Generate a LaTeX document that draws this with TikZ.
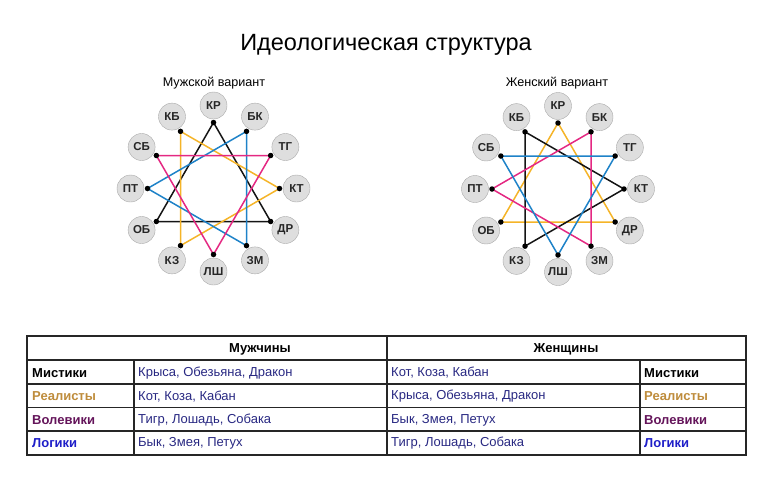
\documentclass[tikz,border=0pt]{standalone}
\usepackage{fontspec}
\setmainfont{Liberation Sans}
\usetikzlibrary{backgrounds}
\definecolor{starblack}{RGB}{20, 20, 20}
\definecolor{starorange}{RGB}{245, 180, 40}
\definecolor{starpink}{RGB}{228, 40, 130}
\definecolor{starblue}{RGB}{30, 130, 200}
\definecolor{ballfill}{RGB}{222, 222, 222}
\definecolor{balldraw}{RGB}{170, 170, 170}
\definecolor{animaltext}{RGB}{40, 40, 130}
\definecolor{realtext}{RGB}{190, 140, 60}
\definecolor{voltext}{RGB}{100, 20, 90}
\definecolor{logtext}{RGB}{30, 30, 200}
\tikzset{
    sign/.style={circle, draw=balldraw, fill=ballfill, minimum size=27pt, inner sep=0pt, font=\fontsize{11.5}{12}\selectfont\bfseries, text=black!85},
    vertex/.style={circle, fill=black, minimum size=5.5pt, inner sep=0pt},
    starline/.style={line width=1.5pt},
    cell/.style={anchor=west, inner sep=0pt, font=\fontsize{13}{14}\selectfont, text=animaltext},
    rowlabel/.style={anchor=west, inner sep=0pt, font=\fontsize{13}{14}\selectfont\bfseries},
    headlabel/.style={inner sep=0pt, font=\fontsize{13}{14}\selectfont\bfseries},
    grid/.style={line width=1.5pt, draw=black!85}
}

\begin{document}
\begin{tikzpicture}[x=1pt, y=-1pt]

    \useasboundingbox (0,0) rectangle (770,482);

    \node (title) at (386,45) {\fontsize{23.5}{24}\selectfont Идеологическая структура};
    \node (msub) at (214,83) {\fontsize{12.6}{13}\selectfont Мужской вариант};
    \node (wsub) at (557,83) {\fontsize{12.6}{13}\selectfont Женский вариант};

    % male star
    \begin{scope}[shift={(213.5,188.5)}]
        \foreach \sgn [count=\i from 0] in {КР,БК,ТГ,КТ,ДР,ЗМ,ЛШ,КЗ,ОБ,ПТ,СБ,КБ} {
            \node (m\i) [sign] at ({30*\i-90}:83) {\sgn};
            \node (md\i) [vertex] at ({30*\i-90}:66) {};
        }
    \end{scope}

    % female star
    \begin{scope}[shift={(558,189)}]
        \foreach \sgn [count=\i from 0] in {КР,БК,ТГ,КТ,ДР,ЗМ,ЛШ,КЗ,ОБ,ПТ,СБ,КБ} {
            \node (f\i) [sign] at ({30*\i-90}:83) {\sgn};
            \node (fd\i) [vertex] at ({30*\i-90}:66) {};
        }
    \end{scope}

    \begin{scope}[on background layer]
        \draw [starline, draw=starblack]  (md0.center) -- (md4.center) -- (md8.center) -- cycle;
        \draw [starline, draw=starorange] (md11.center) -- (md3.center) -- (md7.center) -- cycle;
        \draw [starline, draw=starblue]   (md1.center) -- (md9.center) -- (md5.center) -- cycle;
        \draw [starline, draw=starpink]   (md10.center) -- (md2.center) -- (md6.center) -- cycle;

        \draw [starline, draw=starorange] (fd0.center) -- (fd4.center) -- (fd8.center) -- cycle;
        \draw [starline, draw=starblack]  (fd11.center) -- (fd3.center) -- (fd7.center) -- cycle;
        \draw [starline, draw=starpink]   (fd1.center) -- (fd9.center) -- (fd5.center) -- cycle;
        \draw [starline, draw=starblue]   (fd10.center) -- (fd2.center) -- (fd6.center) -- cycle;
    \end{scope}

    % table
    \draw [grid] (27,336) rectangle (746,455);
    \draw [grid] (27,360) -- (746,360);
    \draw [grid] (27,384) -- (746,384);
    \draw [grid] (27,407.5) -- (746,407.5);
    \draw [grid] (27,431) -- (746,431);
    \draw [grid] (387,336) -- (387,455);
    \draw [grid] (134,360) -- (134,455);
    \draw [grid] (640,360) -- (640,455);

    \node (mhead) [headlabel] at (260,349) {Мужчины};
    \node (whead) [headlabel] at (566,349) {Женщины};

    \node (ml1) [rowlabel] at (32,373) {Мистики};
    \node (ml2) [rowlabel, text=realtext] at (32,396.5) {Реалисты};
    \node (ml3) [rowlabel, text=voltext] at (32,420) {Волевики};
    \node (ml4) [rowlabel, text=logtext] at (32,443.5) {Логики};

    \node (ma1) [cell] at (138,373) {Крыса, Обезьяна, Дракон};
    \node (ma2) [cell] at (138,396.5) {Кот, Коза, Кабан};
    \node (ma3) [cell] at (138,420) {Тигр, Лошадь, Собака};
    \node (ma4) [cell] at (138,443.5) {Бык, Змея, Петух};

    \node (wa1) [cell] at (391,373) {Кот, Коза, Кабан};
    \node (wa2) [cell] at (391,396.5) {Крыса, Обезьяна, Дракон};
    \node (wa3) [cell] at (391,420) {Бык, Змея, Петух};
    \node (wa4) [cell] at (391,443.5) {Тигр, Лошадь, Собака};

    \node (wl1) [rowlabel] at (644,373) {Мистики};
    \node (wl2) [rowlabel, text=realtext] at (644,396.5) {Реалисты};
    \node (wl3) [rowlabel, text=voltext] at (644,420) {Волевики};
    \node (wl4) [rowlabel, text=logtext] at (644,443.5) {Логики};

\end{tikzpicture}
\end{document}
